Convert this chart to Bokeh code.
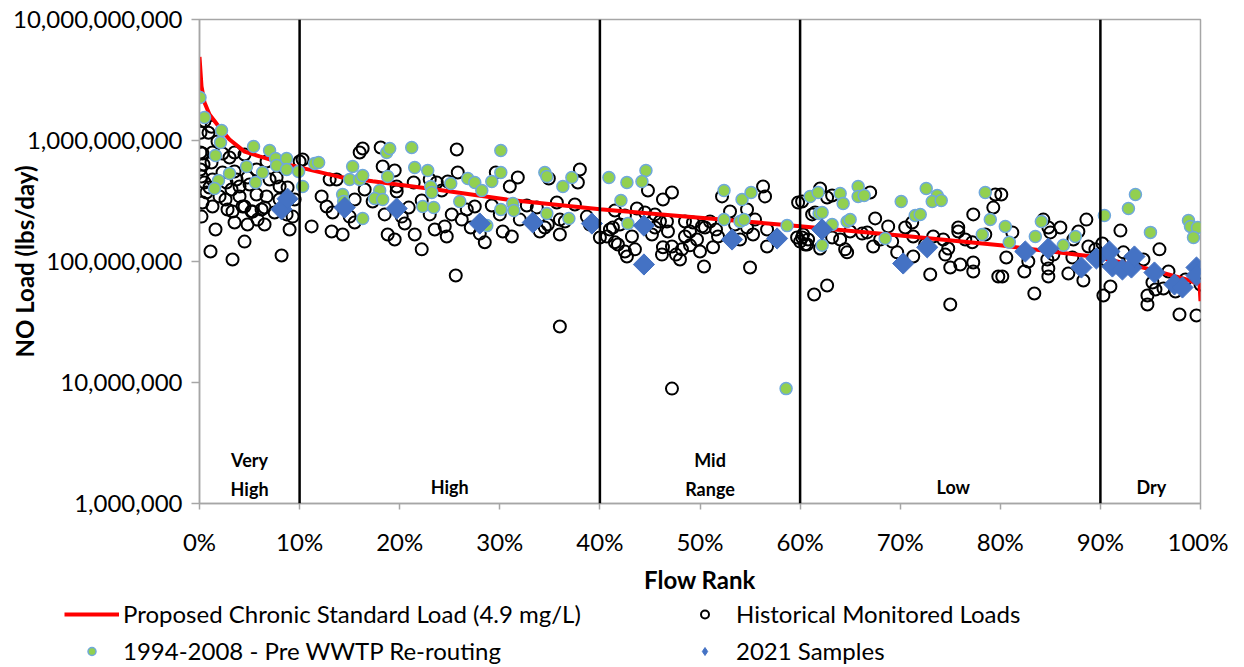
from bokeh.plotting import figure
from bokeh.layouts import column
from bokeh.models import Span, Legend, LegendItem, FixedTicker, NumeralTickFormatter, Range1d
from bokeh.embed import file_html
from bokeh.resources import INLINE
from bokeh.core.properties import value
import math

FONT = "Lato"

# ---------------- data ----------------
# Proposed chronic standard load curve (flow rank %, lbs/day)
std_rank = [0, 0.2, 0.5, 1, 2, 3, 4.5, 6, 8, 10, 14, 17.3, 24, 30.7, 40, 50, 60, 70, 80, 90, 95, 98.6, 99.9, 100]
std_load = [4.9e9, 2.8e9, 2.06e9, 1.64e9, 1.28e9, 1.02e9, 8.1e8, 7.4e8, 6.6e8, 6.0e8, 5.0e8, 4.6e8, 3.9e8,
            3.25e8, 2.7e8, 2.3e8, 1.96e8, 1.64e8, 1.36e8, 1.08e8, 8.6e7, 7.1e7, 6.5e7, 4.7e7]

# Historical monitored loads
hist_rank = [0.1, 0.9, 1.8, 0.1, 0.3, 1.3, 2.3, 3.5, 0.1, 0.2, 0.5, 0.7, 0.3, 1.3, 0.2, 2.3, 2.7, 2.0, 3.2, 3.7,
             4.0, 4.5, 3.3, 3.5, 5.2, 5.8, 5.7, 6.7, 7.0, 7.7, 7.5, 8.7, 9.3, 9.5, 4.5, 1.1, 3.3, 8.2, 4.5, 6.7,
             5.7, 10.0, 10.3, 11.2, 12.2, 12.7, 13.0, 13.7, 13.2, 14.3, 13.3, 0.5, 1.2, 0.4, 1.0, 1.6, 2.6, 5.0,
             6.2, 8.0, 8.8, 6.5, 4.8, 2.8, 9.0, 1.2, 3.0, 3.5, 4.0, 4.8, 6.5, 5.3, 4.3, 8.0, 1.3,
             16.0, 16.3, 18.1, 18.3, 19.5, 19.7, 19.7, 21.4, 23.0, 23.7, 24.2, 25.7, 25.8, 24.8, 22.2, 20.9, 20.2,
             20.5, 18.8, 19.5, 17.3, 15.5, 15.5, 15.0, 22.2, 24.5, 24.7, 25.2, 26.7, 27.5, 27.1, 28.0, 28.5, 29.2,
             29.6, 31.0, 31.8, 30.3, 31.2, 32.7, 33.7, 34.0, 34.8, 36.0, 35.7, 37.5, 36.0, 38.0, 37.8, 34.9, 38.7,
             40.0, 25.6, 36.0, 16.5, 18.5, 23.0, 26.2, 32.0, 34.5, 36.5, 39.0, 21.5, 23.5, 30.0,
             44.8, 46.3, 47.2, 43.7, 41.5, 42.5, 44.5, 41.3, 40.7, 41.5, 42.5, 42.7, 43.2, 45.2, 46.0, 46.7, 46.8,
             48.5, 49.3, 50.2, 50.5, 48.5, 46.3, 47.2, 48.2, 49.0, 50.0, 51.3, 46.2, 47.6, 50.4, 52.2, 53.0, 54.7,
             55.5, 54.7, 55.3, 56.7, 56.3, 56.5, 56.7, 55.0, 59.8, 59.7, 60.2, 47.2, 60.5, 60.8, 60.0, 54.0, 42.0,
             45.5, 51.8, 53.5, 41.0, 41.8, 43.5, 45.5, 49.0, 49.7, 51.0, 51.6, 48.0,
             62.0, 62.7, 63.2, 67.0, 61.2, 61.5, 60.2, 60.3, 60.7, 62.0, 63.2, 64.0, 64.5, 64.7, 66.2, 66.7, 67.3,
             67.5, 68.8, 69.2, 69.7, 71.2, 71.3, 71.3, 73.3, 74.3, 74.8, 74.5, 75.8, 75.8, 77.3, 77.2, 79.3, 75.0,
             76.0, 77.3, 77.3, 79.8, 73.0, 61.4, 62.7, 75.0, 65.0, 68.0, 72.5, 76.5, 78.5, 70.5, 79.5,
             80.1, 81.2, 80.6, 80.2, 82.4, 82.8, 84.3, 84.8, 85.0, 84.7, 84.8, 84.8, 85.3, 86.8, 87.2, 87.8, 87.3,
             88.6, 88.8, 88.3, 90.2, 91.0, 90.3, 92.0, 92.3, 94.3, 95.9, 96.8, 94.7, 94.7, 95.5, 96.3, 97.5, 95.2,
             97.9, 99.6, 100.0, 83.4, 86.0, 89.5, 93.0, 98.5, 90.5]
hist_load = [1.16e9, 1.16e9, 9.8e8, 7.96e8, 7.81e8, 7.96e8, 7.81e8, 7.96e8, 5.76e8, 5.04e8, 4.5e8, 3.72e8, 3.07e8,
             2.85e8, 2.35e8, 5.44e8, 4.5e8, 3.45e8, 3.94e8, 4.76e8, 3.45e8, 2.85e8, 2.59e8, 2.1e8, 2.59e8, 2.22e8,
             3.58e8, 3.45e8, 4.76e8, 4.95e8, 2.54e8, 2.45e8, 2.35e8, 3.25e8, 1.46e8, 1.21e8, 1.04e8, 1.12e8, 7.66e8,
             6.71e8, 5.76e8, 6.71e8, 6.97e8, 1.95e8, 3.45e8, 2.85e8, 4.76e8, 4.76e8, 1.77e8, 1.67e8, 2.54e8, 1.45e9,
             1.3e9, 6.34e8, 4.09e8, 1.84e8, 3.25e8, 4.33e8, 2.69e8, 3.25e8, 4.09e8, 2.02e8, 2.02e8, 2.69e8, 1.84e8,
             6.58e8, 7.24e8, 5.54e8, 4.17e8, 4.95e8, 2.79e8, 2.59e8, 2.85e8, 4.17e8, 4.76e8,
             7.96e8, 8.59e8, 8.75e8, 6.1e8, 5.65e8, 4.17e8, 3.79e8, 4.5e8, 4.76e8, 4.5e8, 3.86e8, 8.43e8, 5.44e8,
             4.58e8, 3.19e8, 2.79e8, 2.35e8, 2.06e8, 1.67e8, 1.52e8, 3.13e8, 3.25e8, 2.1e8, 2.35e8, 1.26e8, 1.95e8,
             1.61e8, 2.45e8, 2.69e8, 2.85e8, 1.91e8, 1.7e8, 1.44e8, 2.9e8, 5.44e8, 4.17e8, 4.95e8, 1.77e8, 1.61e8,
             2.9e8, 2.79e8, 1.77e8, 2.02e8, 1.67e8, 3.07e8, 2.96e8, 2.22e8, 5.76e8, 4.5e8, 4.85e8, 2.35e8, 1.58e8,
             7.66e7, 2.9e7, 3.94e8, 2.45e8, 2.45e8, 2.22e8, 2.22e8, 1.91e8, 2.14e8, 2.02e8, 1.67e8, 1.84e8, 2.45e8,
             3.86e8, 3.25e8, 3.72e8, 2.74e8, 2.64e8, 2.4e8, 2.54e8, 1.91e8, 1.61e8, 1.44e8, 1.21e8, 1.1e8, 1.61e8,
             1.67e8, 2.14e8, 2.14e8, 1.77e8, 2.14e8, 2.1e8, 1.95e8, 1.91e8, 1.61e8, 1.31e8, 1.33e8, 1.26e8, 1.36e8,
             1.21e8, 1.31e8, 1.14e8, 1.14e8, 9.09e7, 3.45e8, 2.59e8, 2.69e8, 2.22e8, 1.91e8, 1.67e8, 1.84e8, 4.17e8,
             3.45e8, 1.33e8, 8.92e7, 3.07e8, 1.58e8, 1.58e8, 8.9e6, 1.38e8, 1.52e8, 1.46e8, 1.52e8, 2.02e8, 2.45e8,
             1.61e8, 2.02e8, 1.84e8, 1.38e8, 1.26e8, 1.91e8, 1.77e8, 1.52e8, 2.14e8, 1.84e8, 1.04e8,
             4.01e8, 3.38e8, 3.51e8, 3.72e8, 2.45e8, 2.54e8, 3.13e8, 1.67e8, 1.38e8, 1.28e8, 1.58e8, 1.52e8, 1.26e8,
             1.19e8, 1.7e8, 1.74e8, 1.33e8, 2.27e8, 1.95e8, 1.46e8, 1.19e8, 2.1e8, 1.61e8, 1.1e8, 1.61e8, 1.52e8,
             1.28e8, 1.14e8, 1.91e8, 1.77e8, 2.45e8, 1.44e8, 2.79e8, 8.92e7, 9.45e7, 9.8e7, 8.27e7, 7.52e7, 7.81e7,
             5.34e7, 6.34e7, 4.41e7, 1.77e8, 1.52e8, 1.38e8, 1.52e8, 1.67e8, 1.91e8, 3.58e8,
             3.58e8, 1.74e8, 1.08e8, 7.52e7, 8.27e7, 1.0e8, 2.22e8, 1.91e8, 1.74e8, 1.04e8, 8.75e7, 7.52e7, 1.14e8,
             7.96e7, 1.08e8, 1.77e8, 1.52e8, 2.22e8, 1.33e8, 6.97e7, 1.41e8, 6.22e7, 5.24e7, 1.8e8, 1.19e8, 1.04e8,
             1.26e8, 8.27e7, 5.24e7, 4.41e7, 5.87e7, 5.98e7, 5.65e7, 6.71e7, 3.65e7, 3.58e7, 6.46e7, 5.44e7, 1.91e8,
             1.26e8, 1.04e8, 7.1e7, 1.04e8]

# 1994-2008 - Pre WWTP Re-routing
pre_rank = [0.05, 0.5, 2.2, 2.1, 1.6, 3.0, 1.9, 1.5, 4.7, 5.4, 7.0, 6.3, 5.6, 7.6, 7.7, 8.7, 8.7, 9.9, 10.3, 11.5,
            11.9, 15.3, 15.0, 16.0, 16.3, 18.7, 19.0, 21.2, 21.5, 22.8, 18.8, 18.0, 17.5, 18.3, 23.1, 23.2, 22.3,
            23.4, 16.3, 25.1, 26.8, 27.5, 28.2, 29.2, 30.1, 30.1, 26.0, 28.7, 30.1, 31.3, 31.4, 34.5, 34.7, 36.3,
            37.2, 34.7, 36.9, 14.3, 14.4, 40.9, 42.7, 44.6, 44.2, 42.1, 42.8, 52.4, 54.2, 55.1, 52.4, 54.0, 54.4,
            58.7, 58.6, 61.0, 61.8, 61.9, 62.2, 64.0, 64.3, 65.8, 65.8, 66.4, 64.7, 65.0, 63.2, 62.2, 68.5, 70.1,
            72.6, 73.7, 73.2, 74.1, 71.5, 72.0, 78.5, 79.0, 78.2, 80.5, 80.9, 83.5, 84.1, 86.3, 87.5, 90.4, 92.8,
            93.5, 95.0, 98.8, 99.0, 99.7, 99.3]
pre_load = [2.27e9, 1.55e9, 1.21e9, 9.63e8, 7.52e8, 5.34e8, 4.67e8, 4.01e8, 6.1e8, 8.92e8, 8.27e8, 5.44e8, 4.5e8,
            7.1e8, 6.22e8, 7.1e8, 5.76e8, 5.54e8, 4.17e8, 6.46e8, 6.58e8, 6.1e8, 4.76e8, 4.76e8, 5.14e8, 7.96e8,
            8.59e8, 8.75e8, 5.98e8, 5.65e8, 5.04e8, 3.86e8, 3.32e8, 3.25e8, 4.17e8, 3.72e8, 2.85e8, 2.79e8, 2.27e8,
            4.41e8, 4.85e8, 4.5e8, 3.86e8, 4.58e8, 8.27e8, 5.44e8, 3.13e8, 1.98e8, 2.69e8, 3.02e8, 2.64e8, 5.44e8,
            5.04e8, 4.17e8, 4.95e8, 2.49e8, 2.27e8, 3.58e8, 3.13e8, 4.95e8, 4.5e8, 5.65e8, 4.58e8, 3.19e8, 2.06e8,
            3.86e8, 3.25e8, 3.72e8, 2.22e8, 2.14e8, 2.22e8, 1.98e8, 8.9e6, 3.45e8, 3.72e8, 2.49e8, 2.54e8, 3.65e8,
            3.02e8, 4.17e8, 3.45e8, 3.51e8, 2.14e8, 2.22e8, 2.02e8, 1.36e8, 1.55e8, 3.13e8, 4.01e8, 3.51e8, 3.13e8,
            3.19e8, 2.4e8, 2.45e8, 3.72e8, 2.22e8, 1.67e8, 1.95e8, 1.44e8, 1.61e8, 2.14e8, 1.36e8, 1.61e8, 2.4e8,
            2.74e8, 3.58e8, 1.74e8, 2.18e8, 1.95e8, 1.91e8, 1.58e8]

# 2021 Samples
s21_rank = [8.2, 8.8, 14.5, 19.7, 28.0, 33.3, 39.2, 44.4, 44.4, 53.2, 57.7, 62.2, 70.3, 72.7, 82.5, 84.8, 88.1,
            89.6, 90.9, 91.2, 92.2, 93.1, 93.4, 95.4, 97.4, 98.2, 99.6, 99.6]
s21_load = [2.7e8, 3.3e8, 2.79e8, 2.74e8, 2.06e8, 2.1e8, 2.06e8, 1.98e8, 9.45e7, 1.52e8, 1.55e8, 1.84e8, 9.63e7,
            1.31e8, 1.21e8, 1.28e8, 8.92e7, 1.06e8, 1.21e8, 9.09e7, 8.59e7, 8.92e7, 1.1e8, 8.11e7, 6.46e7, 6.1e7,
            8.92e7, 7.66e7]

zone_bounds = [10, 40, 60, 90]
zone_names = [["Very", "High"], ["High"], ["Mid", "Range"], ["Low"], ["Dry"]]
zone_centers = [5, 25, 51, 75.3, 95.1]

x_ticks = [0, 10, 20, 30, 40, 50, 60, 70, 80, 90, 100]
x_tick_labels = ["0%", "10%", "20%", "30%", "40%", "50%", "60%", "70%", "80%", "90%", "100%"]
y_ticks = [1e6, 1e7, 1e8, 1e9, 1e10]

legend_labels = ["Proposed Chronic Standard Load (4.9 mg/L)", "1994-2008 - Pre WWTP Re-routing",
                 "Historical Monitored Loads", "2021 Samples"]

# ---------------- styles ----------------
hist_style = dict(marker="circle", size=12, fill_color=None, line_color="black", line_width=2)
std_style = dict(line_color="#FF0000", line_width=4)
pre_style = dict(marker="circle", size=12, fill_color="#92D050", line_color="#6FA8DC", line_width=1.5)
s21_style = dict(marker="square", size=15, angle=math.pi / 4, fill_color="#4472C4", line_color="#4472C4")
s21_key_style = dict(marker="diamond", size=17, fill_color="#4472C4", line_color="#4472C4")

# ---------------- main figure ----------------
p = figure(width=1228, height=597, x_range=Range1d(0, 100), y_range=Range1d(1e6, 1e10),
           y_axis_type="log", output_backend="svg", toolbar_location=None,
           min_border_left=199, min_border_right=28, min_border_top=19, min_border_bottom=94)
p.frame_align = False
p.background_fill_color = "white"
p.border_fill_color = "white"
p.outline_line_color = "#A6A6A6"
p.outline_line_width = 1.5
p.xgrid.visible = False
p.ygrid.visible = False

AX = "#A6A6A6"
for ax in (p.xaxis[0], p.yaxis[0]):
    ax.axis_line_color = AX
    ax.axis_line_width = 1.5
    ax.major_tick_line_color = AX
    ax.major_tick_line_width = 1.5
    ax.major_tick_in = 0
    ax.minor_tick_line_color = None
    ax.major_label_text_font = FONT
    ax.major_label_text_font_size = "24px"
    ax.major_label_text_color = "black"
    ax.axis_label_text_font = FONT
    ax.axis_label_text_font_size = "24px"
    ax.axis_label_text_font_style = "bold"
    ax.axis_label_text_color = "black"

p.xaxis.ticker = FixedTicker(ticks=x_ticks)
p.xaxis.major_label_overrides = {t: l for t, l in zip(x_ticks, x_tick_labels)}
p.xaxis.major_tick_out = 6
p.xaxis.major_label_standoff = 17
p.xaxis.axis_label = "Flow Rank"
p.xaxis.axis_label_standoff = 6

p.yaxis.ticker = FixedTicker(ticks=y_ticks)
p.yaxis.formatter = NumeralTickFormatter(format="0,0")
p.yaxis.major_tick_out = 8
p.yaxis.major_label_standoff = 9
p.yaxis.axis_label = "NO Load (lbs/day)"
p.yaxis.axis_label_standoff = -29

for b in zone_bounds:
    p.add_layout(Span(location=b, dimension="height", line_color="black", line_width=2.5))

p.scatter(hist_rank, hist_load, **hist_style)
p.line(std_rank, std_load, **std_style)
p.scatter(pre_rank, pre_load, **pre_style)
p.scatter(s21_rank, s21_load, **s21_style)

# zone labels
line_y = {1: [1.36e6], 2: [2.3e6, 1.33e6]}
for names, cx in zip(zone_names, zone_centers):
    ys = line_y[len(names)]
    p.text(x=[cx] * len(names), y=ys, text=names, text_font=value(FONT), text_font_size="18px",
           text_font_style="bold", text_align="center", text_baseline="middle", text_color="black")

# ---------------- legend strip ----------------
q = figure(width=1228, height=68, x_range=Range1d(0, 1), y_range=Range1d(0, 1),
           output_backend="svg", toolbar_location=None,
           min_border_left=0, min_border_right=0, min_border_top=0, min_border_bottom=0)
q.frame_align = False
q.xaxis.visible = False
q.yaxis.visible = False
q.xgrid.visible = False
q.ygrid.visible = False
q.outline_line_color = None
q.background_fill_color = "white"
q.border_fill_color = "white"

# off-range samples: only their legend glyphs are seen
l_std = q.line([-2, -1], [-2, -1], **std_style)
l_pre = q.scatter([-1], [-1], **pre_style)
l_hist = q.scatter([-1], [-1], **hist_style)
l_s21 = q.scatter([-1], [-1], **s21_key_style)

leg_common = dict(border_line_color=None, background_fill_alpha=0, padding=0, margin=0,
                  spacing=8, glyph_width=55, glyph_height=20, label_height=20, label_standoff=4,
                  label_text_font=FONT, label_text_font_size="24px", label_text_color="black",
                  orientation="vertical")
leg1 = Legend(items=[LegendItem(label=legend_labels[0], renderers=[l_std]),
                     LegendItem(label=legend_labels[1], renderers=[l_pre])],
              location=(64, 0), **leg_common)
leg2 = Legend(items=[LegendItem(label=legend_labels[2], renderers=[l_hist]),
                     LegendItem(label=legend_labels[3], renderers=[l_s21])],
              location=(677, 0), **leg_common)
q.add_layout(leg1, "center")
q.add_layout(leg2, "center")

layout = column(p, q, spacing=0)
open("out.html", "w").write(file_html(layout, INLINE))
